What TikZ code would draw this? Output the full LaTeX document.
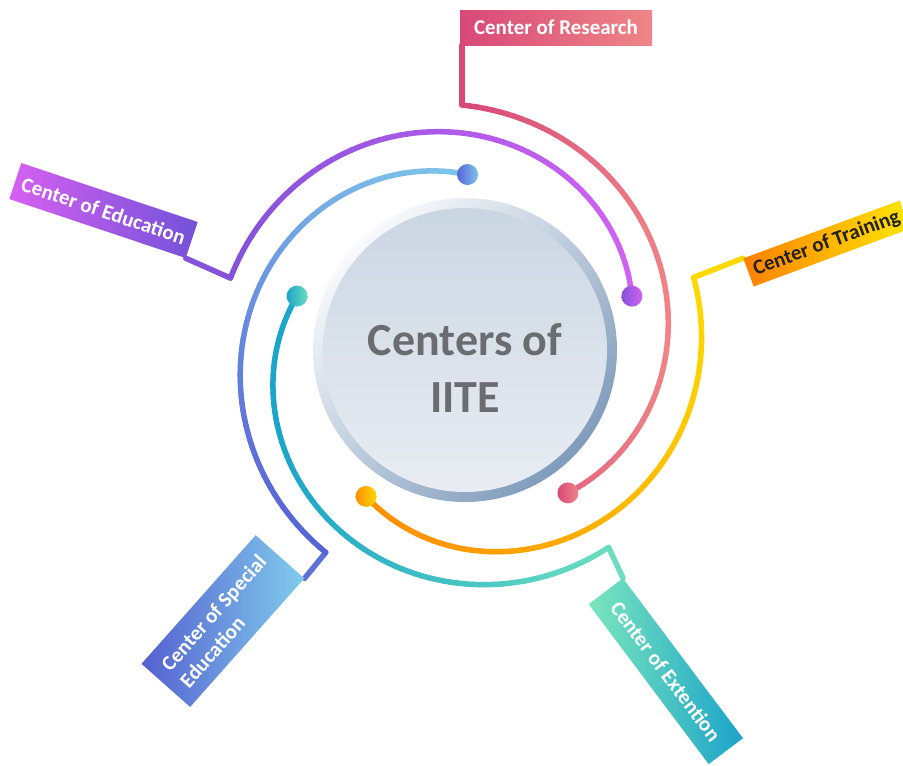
\documentclass[tikz,border=0pt]{standalone}
\usepackage{fontspec}
\setmainfont{Carlito}
\usetikzlibrary{calc}
\pgfdeclarelayer{bg}
\pgfsetlayers{bg,main}

\definecolor{eduA}{HTML}{8552DA}\definecolor{eduB}{HTML}{D262F2}
\definecolor{resA}{HTML}{D84878}\definecolor{resB}{HTML}{EF8488}
\definecolor{speA}{HTML}{7EC4EA}\definecolor{speB}{HTML}{5864D6}
\definecolor{extA}{HTML}{1BA5C8}\definecolor{extB}{HTML}{6CDEC0}
\definecolor{traA}{HTML}{FF9000}\definecolor{traB}{HTML}{FFD800}
\definecolor{boxEduA}{HTML}{D660F2}\definecolor{boxEduB}{HTML}{7352D8}
\definecolor{boxResA}{HTML}{D84878}\definecolor{boxResB}{HTML}{EF8686}
\definecolor{boxTraA}{HTML}{FF8000}\definecolor{boxTraB}{HTML}{FFE600}
\definecolor{boxSpeA}{HTML}{5560D0}\definecolor{boxSpeB}{HTML}{80CCEC}
\definecolor{boxExtA}{HTML}{7BE6BD}\definecolor{boxExtB}{HTML}{1BA3C9}
\definecolor{ringA}{HTML}{F8FAFC}\definecolor{ringB}{HTML}{7F9CBB}
\definecolor{diskA}{HTML}{CBD6E3}\definecolor{diskB}{HTML}{E9EDF3}
\definecolor{titlegray}{HTML}{6B6C70}
\definecolor{trtext}{HTML}{222222}
\definecolor{speCon}{HTML}{5C72D8}

% #1 start angle, #2 sweep, #3 end radius, #4,#5 gradient start, #6,#7 gradient end, #8 colour at start, #9 colour at end
\def\spk{0.25}
\newcommand\drawspiral[9]{%
  \pgfmathsetmacro\spgdx{(#6-#4)/100}%
  \pgfmathsetmacro\spgdy{(#7-#5)/100}%
  \pgfmathsetmacro\spgl{\spgdx*\spgdx+\spgdy*\spgdy}%
  \foreach \spi in {0,...,79}{%
    \pgfmathsetmacro\spta{\spi/80}%
    \pgfmathsetmacro\sptb{(\spi+1)/80}%
    \pgfmathsetmacro\spra{176+(#3-176)*((1+\spk)*\spta-\spk*\spta*\spta)}%
    \pgfmathsetmacro\sprb{176+(#3-176)*((1+\spk)*\sptb-\spk*\sptb*\sptb)}%
    \pgfmathsetmacro\spaa{#1+#2*\spta}%
    \pgfmathsetmacro\spab{#1+#2*\sptb}%
    \pgfmathsetmacro\spxa{464.5+\spra*cos(\spaa)}%
    \pgfmathsetmacro\spya{350.5-\spra*sin(\spaa)}%
    \pgfmathsetmacro\spxb{464.5+\sprb*cos(\spab)}%
    \pgfmathsetmacro\spyb{350.5-\sprb*sin(\spab)}%
    \pgfmathsetmacro\sppq{(((\spxa+\spxb)/2-#4)/100*\spgdx+((\spya+\spyb)/2-#5)/100*\spgdy)/\spgl}%
    \pgfmathtruncatemacro\sppp{100*max(0,min(1,\sppq))}%
    \draw[spline, color=#9!\sppp!#8] (\spxa,\spya) -- (\spxb,\spyb);%
  }%
}

\begin{document}
\begin{tikzpicture}[x=1pt,y=-1pt,
  spline/.style={line width=5.5pt, line cap=round},
  con/.style={line width=5.5pt, line cap=round, line join=round},
  lbl/.style={font=\bfseries\fontsize{21}{25}\selectfont, text=white, inner sep=0pt},
  dot/.style={circle, minimum size=21pt, inner sep=0pt},
  ]
\useasboundingbox (0,0) rectangle (903,766);
\clip (0,0) rectangle (903,766);

% spirals
\def\spk{0.4}
\drawspiral{18}{144.8}{245}{232}{0}{632}{0}{eduA}{eduB}
\def\spk{0}
\drawspiral{306}{144.6}{245.5}{463}{0}{670}{0}{resA}{resB}
\def\spk{0.25}
\drawspiral{89}{146.5}{245}{470}{175}{290}{530}{speA}{speB}
\def\spk{0.5}
\drawspiral{162}{144.2}{244}{280}{0}{612}{0}{extA}{extB}
\def\spk{0.6}
\drawspiral{236}{141.7}{240.5}{366}{497}{700}{290}{traA}{traB}

% elbows
\coordinate (eEdu) at ({464.5+245*cos(162.8)},{350.5-245*sin(162.8)});
\coordinate (eRes) at ({464.5+245.5*cos(90.6)},{350.5-245.5*sin(90.6)});
\coordinate (eSpe) at ({464.5+245*cos(235.5)},{350.5-245*sin(235.5)});
\coordinate (eExt) at ({464.5+244*cos(306.2)},{350.5-244*sin(306.2)});
\coordinate (eTra) at ({464.5+240.5*cos(377.7)},{350.5-240.5*sin(377.7)});

% label boxes
\node[lbl, minimum width=192pt, minimum height=35pt, left color=boxResA, right color=boxResB] (research) at (556,27.5) {Center of Research};
\node[lbl, rotate=-18.5, minimum width=186pt, minimum height=38pt, left color=boxEduA, right color=boxEduB] (education) at (103.5,210.5) {Center of Education};
\node[lbl, text=trtext, rotate=20.3, anchor=west, minimum height=30pt, inner xsep=6pt, left color=boxTraA, right color=boxTraB] (training) at (748.3,272.5) {Center of Training};
\node[lbl, rotate=48.4, minimum width=172pt, minimum height=65pt, align=left, left color=boxSpeA, right color=boxSpeB] (special) at (222.9,621.1) {Center of Special\\Education};
\node[lbl, rotate=-53.1, minimum width=200pt, minimum height=43pt, left color=boxExtA, right color=boxExtB] (extension) at (665.8,671.2) {Center of Extention};

% connectors
\begin{pgfonlayer}{bg}
\draw[con, color=resA] (eRes) -- (eRes |- research.south);
\draw[con, color=eduA] (eEdu) -- (education.south east);
\draw[con, color=traB] (eTra) -- (training.north west);
\draw[con, color=speCon] (eSpe) -- (special.south east);
\draw[con, color=extB] (eExt) -- (extension.north west);
\end{pgfonlayer}

% dots
\node[dot, left color=eduA, right color=eduB] (dEdu) at ({464.5+176*cos(18)},{350.5-176*sin(18)}) {};
\node[dot, left color=resA, right color=resB] (dRes) at ({464.5+176*cos(306)},{350.5-176*sin(306)}) {};
\node[dot, left color=speB, right color=speA] (dSpe) at ({464.5+176*cos(89)},{350.5-176*sin(89)}) {};
\node[dot, left color=extA, right color=extB] (dExt) at ({464.5+176*cos(162)},{350.5-176*sin(162)}) {};
\node[dot, left color=traA, right color=traB] (dTra) at ({464.5+176*cos(236)},{350.5-176*sin(236)}) {};

% central circle
\shade[left color=ringA, right color=ringB, shading angle=45] (465,350) circle (152);
\shade[top color=diskA, bottom color=diskB] (465,350) circle (142);
\node[font=\bfseries\fontsize{46}{57}\selectfont, text=titlegray, align=center] (title) at (465,368) {Centers of\\IITE};
\end{tikzpicture}
\end{document}
